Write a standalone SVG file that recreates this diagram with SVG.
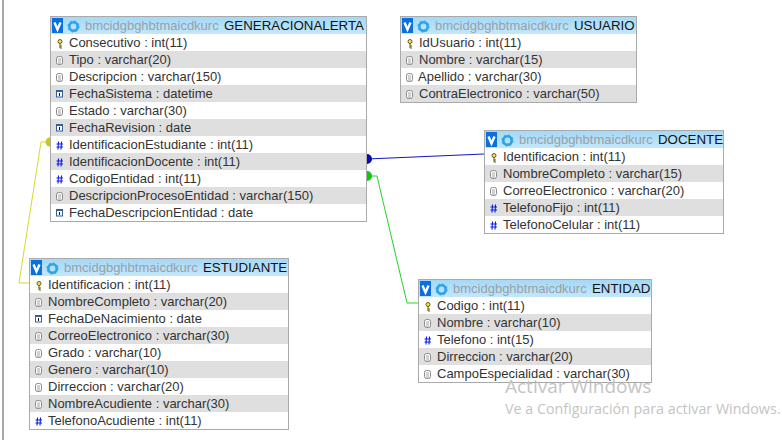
<svg xmlns="http://www.w3.org/2000/svg" width="782" height="440" viewBox="0 0 782 440">
<style>
text{font-family:"Liberation Sans",Arial,sans-serif;font-size:13px;fill:#333}
.box{fill:#fff;stroke:#aaa;stroke-width:1}
.hd{fill:url(#hg)}
.alt{fill:#dfdfdf}
.db{fill:#9a9fa6}
.tn{fill:#111;font-size:13.300px}
.wm1{font-family:"Segoe UI","Open Sans","Liberation Sans",sans-serif;font-size:19px;fill:#c4c4c4}
.wm2{font-family:"Segoe UI","Open Sans","Liberation Sans",sans-serif;font-size:14.300px;fill:#c4c4c4}
.c{fill:none;stroke-width:1}
</style>
<defs>
<linearGradient id="hg" x1="0" y1="0" x2="0" y2="1"><stop offset="0" stop-color="#a4d9f7"/><stop offset="1" stop-color="#c2e7fb"/></linearGradient>
<g id="hdr"><rect x="0" y="0" width="11" height="15" fill="#0a6fe0"/><path d="M2.500 4.500 L5.500 11.500 L8.500 4.500" fill="none" stroke="#fff" stroke-width="2.400"/><circle cx="21.500" cy="8.500" r="4.200" fill="none" stroke="#2ea3ea" stroke-width="2.600"/><circle cx="21.500" cy="8.500" r="5.600" fill="none" stroke="#2ea3ea" stroke-width="1" stroke-dasharray="2 2.400"/></g>
<g id="key"><circle cx="3" cy="2.500" r="2" fill="#f3e15a" stroke="#6b5a10" stroke-width="1"/><path d="M3 4.500V9M3 7H5M3 9H5" stroke="#6b5a10" stroke-width="1.100" fill="none"/></g>
<g id="str"><rect x="0.500" y="0.500" width="6" height="8" rx="2" fill="#fff" stroke="#8a8a8a"/><path d="M2 3H5M2 5H5M2 7H5" stroke="#8a8a8a" stroke-width="0.800"/></g>
<g id="dat"><rect x="0.500" y="0.500" width="6" height="6.500" fill="#fff" stroke="#33609c"/><rect x="0" y="0" width="7" height="2" fill="#33609c"/><path d="M3.500 3V6" stroke="#111" stroke-width="1"/></g>
<g id="num"><path d="M2.500 0.500L2 8.500M5.500 0.500L5 8.500M0.500 3H7M0.500 6H7" stroke="#0a1ee0" stroke-width="1.100" fill="none"/></g>
</defs>
<rect width="782" height="440" fill="#fff"/>
<rect x="2" y="0" width="2" height="440" fill="#a8a8a8"/>
<g id="connectors">
<path class="c" stroke="#d8d82a" d="M48 142H41L19 283H29"/>
<path d="M50 137.500a4.500 4.500 0 0 0 0 9z" fill="#c8c820"/>
<path d="M29 281v4l2-2z" fill="#c8c820"/>
<path class="c" stroke="#1414c8" d="M367 159L484 154"/>
<path d="M367 154a5 5 0 0 1 0 10z" fill="#0a0ab8"/>
<path class="c" stroke="#22d522" d="M367 176H377L407 303H418"/>
<path d="M367 171a5 5 0 0 1 0 10z" fill="#10c810"/>
</g>
<g id="GENERACIONALERTA">
<rect class="box" x="50.500" y="16.500" width="316" height="205"/>
<rect class="hd" x="51" y="17" width="315" height="17"/>
<use href="#hdr" x="52" y="18"/>
<text class="db" x="85" y="30">bmcidgbghbtmaicdkurc</text><text class="tn" x="224" y="30">GENERACIONALERTA</text>
<rect class="alt" x="51" y="51" width="315" height="17"/><rect class="alt" x="51" y="85" width="315" height="17"/><rect class="alt" x="51" y="119" width="315" height="17"/><rect class="alt" x="51" y="153" width="315" height="17"/><rect class="alt" x="51" y="187" width="315" height="17"/>
<use href="#key" x="57" y="39"/><use href="#str" x="56" y="56"/><use href="#str" x="56" y="73"/><use href="#dat" x="56" y="90"/><use href="#str" x="56" y="107"/><use href="#dat" x="56" y="124"/><use href="#num" x="56" y="141"/><use href="#num" x="56" y="158"/><use href="#num" x="56" y="175"/><use href="#str" x="56" y="192"/><use href="#dat" x="56" y="209"/>
<text x="69" y="47">Consecutivo : int(11)</text>
<text x="69" y="64">Tipo : varchar(20)</text>
<text x="69" y="81">Descripcion : varchar(150)</text>
<text x="69" y="98">FechaSistema : datetime</text>
<text x="69" y="115">Estado : varchar(30)</text>
<text x="69" y="132">FechaRevision : date</text>
<text x="69" y="149">IdentificacionEstudiante : int(11)</text>
<text x="69" y="166">IdentificacionDocente : int(11)</text>
<text x="69" y="183">CodigoEntidad : int(11)</text>
<text x="69" y="200">DescripcionProcesoEntidad : varchar(150)</text>
<text x="69" y="217">FechaDescripcionEntidad : date</text>
</g>
<g id="USUARIO">
<rect class="box" x="400.500" y="16.500" width="236" height="86"/>
<rect class="hd" x="401" y="17" width="235" height="17"/>
<use href="#hdr" x="402" y="18"/>
<text class="db" x="435" y="30">bmcidgbghbtmaicdkurc</text><text class="tn" x="574" y="30">USUARIO</text>
<rect class="alt" x="401" y="51" width="235" height="17"/><rect class="alt" x="401" y="85" width="235" height="17"/>
<use href="#key" x="407" y="39"/><use href="#str" x="406" y="56"/><use href="#str" x="406" y="73"/><use href="#str" x="406" y="90"/>
<text x="419" y="47">IdUsuario : int(11)</text>
<text x="419" y="64">Nombre : varchar(15)</text>
<text x="418" y="81">Apellido : varchar(30)</text>
<text x="419" y="98">ContraElectronico : varchar(50)</text>
</g>
<g id="DOCENTE">
<rect class="box" x="484.500" y="130.500" width="239" height="103"/>
<rect class="hd" x="485" y="131" width="238" height="17"/>
<use href="#hdr" x="486" y="132"/>
<text class="db" x="519" y="144">bmcidgbghbtmaicdkurc</text><text class="tn" x="658" y="144">DOCENTE</text>
<rect class="alt" x="485" y="165" width="238" height="17"/><rect class="alt" x="485" y="199" width="238" height="17"/>
<use href="#key" x="491" y="153"/><use href="#str" x="490" y="170"/><use href="#str" x="490" y="187"/><use href="#num" x="490" y="204"/><use href="#num" x="490" y="221"/>
<text x="503" y="161">Identificacion : int(11)</text>
<text x="503" y="178">NombreCompleto : varchar(15)</text>
<text x="503" y="195">CorreoElectronico : varchar(20)</text>
<text x="503" y="212">TelefonoFijo : int(11)</text>
<text x="503" y="229">TelefonoCelular : int(11)</text>
</g>
<g id="ESTUDIANTE">
<rect class="box" x="29.500" y="258.500" width="259" height="171"/>
<rect class="hd" x="30" y="259" width="258" height="17"/>
<use href="#hdr" x="31" y="260"/>
<text class="db" x="64" y="272">bmcidgbghbtmaicdkurc</text><text class="tn" x="203" y="272">ESTUDIANTE</text>
<rect class="alt" x="30" y="293" width="258" height="17"/><rect class="alt" x="30" y="327" width="258" height="17"/><rect class="alt" x="30" y="361" width="258" height="17"/><rect class="alt" x="30" y="395" width="258" height="17"/>
<use href="#key" x="36" y="281"/><use href="#str" x="35" y="298"/><use href="#dat" x="35" y="315"/><use href="#str" x="35" y="332"/><use href="#str" x="35" y="349"/><use href="#str" x="35" y="366"/><use href="#str" x="35" y="383"/><use href="#str" x="35" y="400"/><use href="#num" x="35" y="417"/>
<text x="48" y="289">Identificacion : int(11)</text>
<text x="48" y="306">NombreCompleto : varchar(20)</text>
<text x="48" y="323">FechaDeNacimiento : date</text>
<text x="48" y="340">CorreoElectronico : varchar(30)</text>
<text x="48" y="357">Grado : varchar(10)</text>
<text x="48" y="374">Genero : varchar(10)</text>
<text x="48" y="391">Dirreccion : varchar(20)</text>
<text x="48" y="408">NombreAcudiente : varchar(30)</text>
<text x="48" y="425">TelefonoAcudiente : int(11)</text>
</g>
<g id="ENTIDAD">
<rect class="box" x="418.500" y="279.500" width="233" height="103"/>
<rect class="hd" x="419" y="280" width="232" height="17"/>
<use href="#hdr" x="420" y="281"/>
<text class="db" x="453" y="293">bmcidgbghbtmaicdkurc</text><text class="tn" x="592" y="293">ENTIDAD</text>
<rect class="alt" x="419" y="314" width="232" height="17"/><rect class="alt" x="419" y="348" width="232" height="17"/>
<use href="#key" x="425" y="302"/><use href="#str" x="424" y="319"/><use href="#num" x="424" y="336"/><use href="#str" x="424" y="353"/><use href="#str" x="424" y="370"/>
<text x="437" y="310">Codigo : int(11)</text>
<text x="437" y="327">Nombre : varchar(10)</text>
<text x="437" y="344">Telefono : int(15)</text>
<text x="437" y="361">Dirreccion : varchar(20)</text>
<text x="437" y="378">CampoEspecialidad : varchar(30)</text>
</g>
<text class="wm1" x="505" y="393">Activar Windows</text>
<text class="wm2" x="505" y="414">Ve a Configuración para activar Windows.</text>
</svg>
